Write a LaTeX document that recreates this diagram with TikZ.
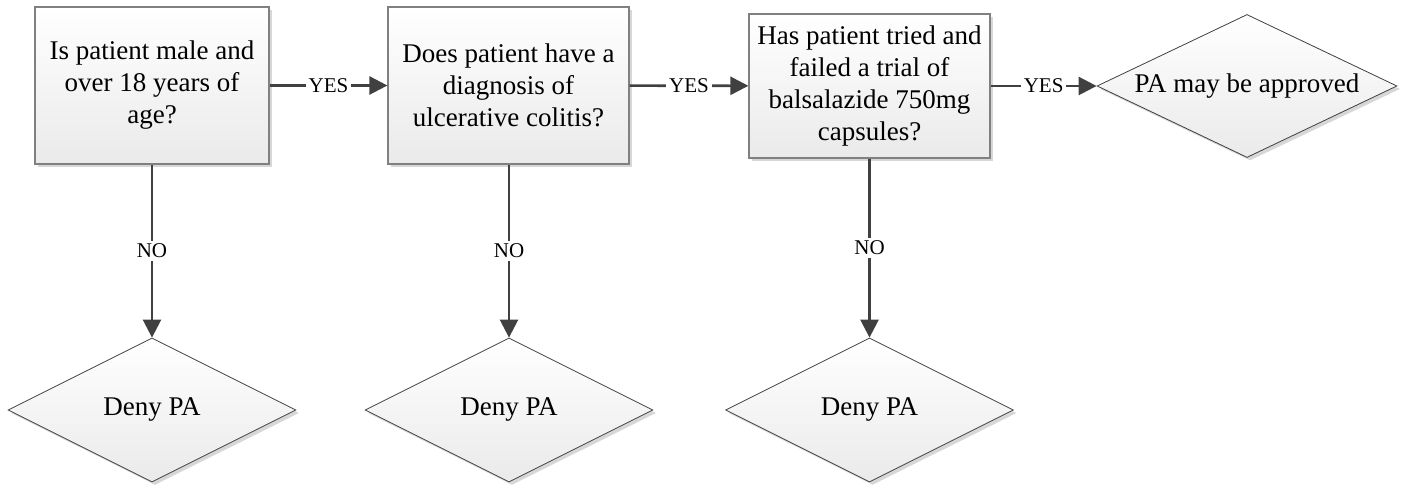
\documentclass[tikz,border=0pt]{standalone}
\usepackage{fontspec}
\setmainfont{LiberationSerif}[Extension=.ttf, UprightFont=*-Regular, BoldFont=*-Bold]
\usetikzlibrary{shapes.geometric,arrows.meta,shadows}
\definecolor{linegray}{RGB}{64,64,64}
\definecolor{boxgray}{RGB}{128,128,128}
\definecolor{fillgray}{RGB}{234,234,234}
\definecolor{shadowgray}{RGB}{215,215,215}

\begin{document}
\begin{tikzpicture}[x=0.5pt, y=-0.5pt,
  question/.style={draw=boxgray, line width=0.6pt, top color=white, bottom color=fillgray,
    drop shadow={shadow xshift=1.5pt, shadow yshift=-1.5pt, fill=shadowgray, opacity=1},
    align=center, inner sep=0pt, minimum height=78.5pt, font=\fontsize{13.5}{16}\selectfont},
  outcome/.style={diamond, aspect=2, draw=linegray, line width=0.4pt, top color=white, bottom color=fillgray,
    drop shadow={shadow xshift=1.5pt, shadow yshift=-1.5pt, fill=shadowgray, opacity=1},
    inner sep=0pt, minimum width=144pt, minimum height=72pt, font=\fontsize{13.5}{16}\selectfont},
  flow/.style={draw=linegray, line width=1.3pt, -{Triangle[length=9pt, width=9pt]}},
  answer/.style={fill=white, inner sep=1.5pt, text=black, font=\fontsize{10.5}{12}\selectfont}]
\useasboundingbox (0,0) rectangle (1403,485);

% Questions
\node[question, minimum width=117pt] (age) at (152,85.5) {Is patient male and\\over 18 years of\\age?};
\node[question, minimum width=120.5pt] (diag) at (508.5,85.5) {Does patient have a\\diagnosis of\\ulcerative colitis?};
\node[question, minimum width=120.5pt, minimum height=72pt] (trial) at (869.5,86) {Has patient tried and\\failed a trial of\\balsalazide 750mg\\capsules?};

% Outcomes
\node[outcome, minimum width=150pt, minimum height=71.5pt] (approve) at (1247,86) {PA may be approved};
\node[outcome] (deny1) at (152,410) {Deny PA};
\node[outcome] (deny2) at (509,410) {Deny PA};
\node[outcome] (deny3) at (869.5,410) {Deny PA};

% Arrows
\draw[flow] (age) -- node[answer] {YES} (diag);
\draw[flow] (diag) -- node[answer] {YES} (trial);
\draw[flow] (trial) -- node[answer] {YES} (approve);
\draw[flow] (age) -- node[answer] {NO} (deny1);
\draw[flow] (diag.south -| deny2) -- node[answer] {NO} (deny2);
\draw[flow] (trial) -- node[answer] {NO} (deny3);
\end{tikzpicture}
\end{document}
